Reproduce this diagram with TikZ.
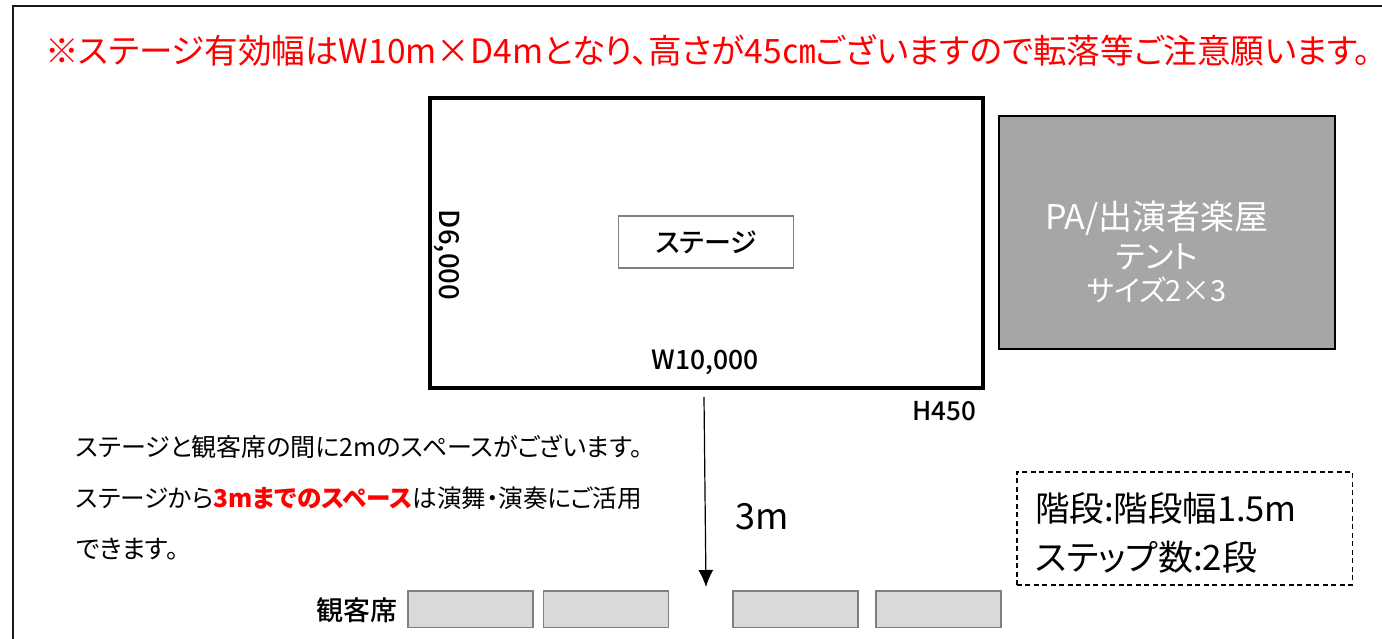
\documentclass[tikz,border=0pt]{standalone}
\usepackage{fontspec}
\usetikzlibrary{arrows.meta}
\setmainfont[RawFeature=+palt]{Noto Sans CJK JP}
\newfontfamily\med[RawFeature=+palt]{Noto Sans CJK JP Medium}
\definecolor{tentgray}{RGB}{166,166,166}
\definecolor{seatgray}{RGB}{217,217,217}
\definecolor{edgegray}{RGB}{127,127,127}
\tikzset{
  txt/.style={inner sep=0pt,outer sep=0pt,text=black},
  seat/.style={draw=edgegray,fill=seatgray,line width=1.6pt,minimum width=125pt,minimum height=36.5pt,inner sep=0pt},
}
\newcommand{\sized}[1]{\fontsize{#1}{#1}\selectfont}
\begin{document}
\begin{tikzpicture}[x=1pt,y=-1pt]
\useasboundingbox (0,0) rectangle (1382,639);
\fill[white] (0,0) rectangle (1382,639);
\draw[line width=2.4pt,color=black!90] (13,639) -- (13,6) -- (1382,6);
\node[txt,anchor=west,text=red] (title) at (45,50) {\sized{33.6}※ステージ有効幅はW10m×D4mとなり、高さが45㎝ございますので転落等ご注意願います。};
\node[draw=black,line width=3.8pt,minimum width=553pt,minimum height=290pt,inner sep=0pt,anchor=north west] (stage) at (428,96) {};
\node[draw=edgegray,line width=1.6pt,minimum width=175pt,minimum height=52pt,inner sep=0pt] (stagelabel) at (706,242) {\sized{27}\med ステージ};
\node[txt,rotate=-90] (depth) at (447,255) {\sized{27.5}\med D6,000};
\node[txt] (width) at (705,362) {\sized{26.5}\med W10,000};
\node[txt] (height) at (944.5,411) {\sized{26}\med H450};
\node[draw=black,fill=tentgray,line width=2.4pt,minimum width=336pt,minimum height=232.5pt,inner sep=0pt,anchor=north west] (tent) at (998,115) {};
\node[txt,text=white,align=center] (tenttext) at (1157,252) {\fontsize{34}{34}\selectfont PA/出演者楽屋\\[7pt]\fontsize{32}{32}\selectfont テント\\[6pt]\fontsize{29}{29}\selectfont サイズ2×3};
\coordinate (arrowstart) at (704,397);
\coordinate (arrowend) at (706,587);
\draw[-{Latex[length=17pt,width=15pt]},line width=1.2pt] (arrowstart) -- (arrowend);
\node[txt] (threem) at (762,517) {\sized{36}3m};
\node[txt,anchor=west] (l1) at (76,447) {\sized{25}ステージと観客席の間に2mのスペースがございます。};
\node[txt,anchor=west] (l2) at (76,498) {\sized{24.6}ステージから\textcolor{red}{\bfseries 3mまでのスペース}は演舞・演奏にご活用};
\node[txt,anchor=west] (l3) at (76,549) {\sized{25.5}できます。};
\node[txt] (seatlabel) at (356.5,610) {\sized{27}\med 観客席};
\node[seat,anchor=north west] (s1) at (407,590) {};
\node[seat,anchor=north west] (s2) at (542.5,590) {};
\node[seat,anchor=north west] (s3) at (732,590) {};
\node[seat,anchor=north west] (s4) at (875,590) {};
\node[draw=black,line width=1.5pt,dash pattern=on 5pt off 3.5pt,minimum width=335.5pt,minimum height=113pt,inner sep=0pt,anchor=north west] (stairs) at (1016,471) {};
\node[txt,anchor=west] (st1) at (1035,508) {\sized{34.5}階段:階段幅1.5m};
\node[txt,anchor=west] (st2) at (1035,557) {\sized{35}ステップ数:2段};
\end{tikzpicture}
\end{document}
